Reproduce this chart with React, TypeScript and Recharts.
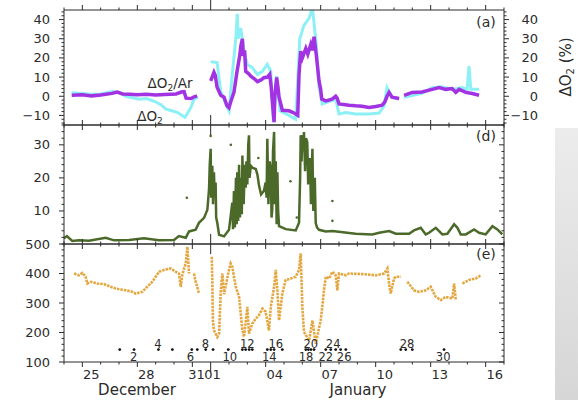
import React from 'react';
import { ComposedChart, Line, Scatter, XAxis, YAxis } from 'recharts';

// x = days since 24 December 00:00
const dayTicks = [0, 1, 2, 3, 4, 5, 6, 7, 8, 9, 10, 11, 12, 13, 14, 15, 16, 17, 18, 19, 20, 21, 22, 23, 24];
const majorDays = [1, 4, 7, 11, 14, 17, 20, 23];
const yearDay = 8;
const labelDays = [1, 4, 7, 8, 11, 14, 17, 20, 23];
const labelText = ['25', '28', '31', '01', '04', '07', '10', '13', '16'];

// panel (a): ΔO2/Ar and ΔO2 (%)
const o2ArPoints: [number, number | null][] = [
  [0.42, 0.5], [1.0, 0.8], [1.5, 0.2], [2.0, 0.6], [2.62, 1.5], [2.9, 2.2], [3.2, 1.2], [3.6, 1.0],
  [4.0, 0.8], [4.5, 1.0], [5.0, 0.6], [5.5, 0.9], [6.11, 1.2], [6.4, 2.2], [6.55, 2.4], [6.66, -1],
  [6.93, -1.2], [7.1, -0.3], [7.26, 0.2], [7.5, null],
  [8.0, 8], [8.18, 12.5], [8.25, 11], [8.35, 4.7], [8.55, 0.5], [8.73, -0.5], [8.89, -5], [9.0, -6],
  [9.09, -3], [9.27, 2], [9.44, 13], [9.6, 22], [9.64, 26], [9.73, 30], [9.78, 21], [9.85, 24],
  [9.91, 13], [10.05, 12], [10.19, 10.5], [10.4, 9], [10.55, 7.6], [10.75, 8.5], [10.91, 9.7],
  [11.1, 10], [11.22, 11.4], [11.3, 5], [11.36, -2.4], [11.46, -13.5], [11.5, 0], [11.6, 9.8],
  [11.68, 4], [11.73, -0.5], [11.91, -7.3], [12.27, -7.6], [12.5, -8.5], [12.64, -9.3], [12.75, -10],
  [12.82, 11.4], [12.91, 23.5], [13.0, 20], [13.19, 25], [13.3, 22], [13.46, 27], [13.55, 24],
  [13.64, 31], [13.76, 21.7], [13.91, 8], [14.0, 3.6], [14.06, -1.5], [14.28, -2.4], [14.62, -1.5],
  [14.82, 0], [14.9, -1], [15.0, -4], [15.55, -4.7], [15.91, -5], [16.26, -5.2], [16.64, -5.8],
  [17.01, -5.3], [17.35, -4.7], [17.5, -3], [17.62, 0], [17.73, 2], [17.89, -0.5], [18.28, -1.2],
  [18.4, null],
  [18.55, 0.5], [18.99, 2], [19.53, 2.2], [20.08, 3.6], [20.46, 4.5], [20.82, 3.6], [21.17, 4],
  [21.37, 2], [21.55, 3.6], [21.92, 2], [22.26, 1.4], [22.64, 0.5],
];
const o2Points: [number, number | null][] = [
  [0.42, 1.8], [1.0, 1.5], [1.5, 1.0], [2.0, 1.2], [2.62, 2.5], [3.0, 2], [3.38, 0], [4.09, -1.5],
  [4.5, -1.2], [5.02, -3], [5.3, -4.5], [5.56, -6.7], [5.89, -7.6], [6.2, -8.5], [6.44, -10],
  [6.6, -11], [6.71, -9.3], [6.93, -5.7], [7.09, -1.5], [7.31, -0.5], [7.5, null],
  [8.0, 18], [8.35, 17.6], [8.55, 2.7], [8.82, -4], [9.0, -7.6], [9.17, 10.5], [9.37, 30], [9.45, 43],
  [9.5, 30], [9.64, 35.6], [9.82, 23.5], [10.0, 16.6], [10.27, 14.9], [10.55, 11.4], [10.82, 13],
  [11.09, 16.6], [11.28, 13], [11.42, -13.5], [11.6, 10.5], [11.78, -7.6], [12.27, -10], [12.64, -12],
  [12.86, 30], [13.09, 37], [13.37, 40.8], [13.55, 46], [13.64, 38], [13.76, 27], [13.91, 4.7],
  [14.09, -4], [14.3, -3.3], [14.82, -1.5], [15.0, -9.3], [15.37, -8.5], [15.91, -9.3], [16.64, -9.3],
  [17.19, -8.8], [17.46, -5], [17.62, 4.5], [17.89, -0.5], [18.28, -1.5], [18.4, null],
  [18.55, -0.5], [19.53, 1.5], [20.08, 4.5], [20.62, 5], [21.17, 3.6], [21.71, 4.6], [21.99, 3.6],
  [22.09, 15.7], [22.19, 3.6], [22.64, 3.6],
];

// panel (d)
const greenPoints: [number, number | null][] = [
  [0, 1.7], [0.16, 2.4], [0.45, 0.9], [0.82, 1.1], [1.36, 1.0], [2.27, 1.9], [2.73, 1.1], [3.55, 1.2],
  [4.36, 1.7], [5.18, 1.1], [6.0, 1.2], [6.27, 2.4], [6.64, 1.9], [6.82, 3.8], [7.18, 4.3], [7.36, 6.4],
  [7.64, 7.9], [7.82, 10.4], [7.91, 16.5], [7.95, 24], [8.0, 28.8], [8.03, 14], [8.09, 23.7], [8.13, 12],
  [8.18, 21.7], [8.22, 14], [8.27, 18.6], [8.3, 8], [8.36, 6.4], [8.46, 2.8], [8.73, 2.3], [9.0, 4.3],
  [9.18, 12.5], [9.22, 4.5], [9.27, 16], [9.32, 5], [9.38, 20], [9.42, 6], [9.45, 21.7], [9.5, 7],
  [9.55, 24], [9.6, 8], [9.65, 20], [9.7, 9], [9.73, 26.8], [9.8, 12], [9.86, 24], [9.91, 17],
  [9.95, 25], [10.0, 18], [10.05, 30], [10.09, 32.9], [10.12, 20], [10.19, 23.7], [10.3, 23],
  [10.46, 22.7], [10.55, 21], [10.64, 17.6], [10.75, 15], [10.82, 15.5], [10.9, 16], [11.0, 18.6],
  [11.05, 14], [11.09, 31.8], [11.15, 12], [11.22, 25], [11.28, 22.7], [11.32, 8], [11.36, 10.4],
  [11.4, 28], [11.46, 33.9], [11.5, 12], [11.55, 25], [11.6, 6], [11.64, 21.7], [11.68, 10],
  [11.73, 5.4], [12.1, 4.5], [12.64, 4.1], [12.82, 6.4], [12.88, 20], [12.91, 32.9], [12.96, 25],
  [13.0, 33], [13.05, 28], [13.09, 33.9], [13.15, 22], [13.2, 32], [13.27, 30.8], [13.32, 18],
  [13.37, 21.7], [13.42, 26], [13.47, 12], [13.55, 28.8], [13.6, 10], [13.64, 16.5], [13.68, 20],
  [13.73, 6.4], [13.8, 5], [13.91, 4.3], [14.28, 3.8], [14.64, 3.9], [15.91, 3.1], [16.82, 2.9],
  [17.19, 3.4], [17.73, 3.9], [18.1, 3.1], [18.82, 3.1], [19.09, 4.1], [19.46, 4.9], [19.73, 2.9],
  [19.91, 3.4], [20.28, 4.9], [20.64, 2.9], [20.91, 3.1], [21.28, 6.0], [21.46, 4.9], [21.64, 2.9],
  [21.92, 2.9], [22.37, 4.4], [22.64, 3.4], [23.0, 2.9], [23.37, 5.4], [23.64, 4.4], [23.91, 2.9],
];
const greenStray: [number, number][] = [
  [6.7, 14], [8.0, 32.7], [9.1, 30], [10.6, 26], [12.35, 19], [14.64, 13], [14.64, 7], [12.7, 8],
];

// panel (e)
const orangePoints: [number, number | null][] = [
  [0.55, 400], [0.82, 394], [1.0, 402], [1.18, 389], [1.27, 366], [1.46, 372], [1.82, 366], [2.18, 364],
  [2.55, 355], [2.82, 349], [3.09, 346], [3.37, 343], [3.73, 338], [3.91, 332], [4.27, 338], [4.54, 355],
  [4.82, 372], [5.0, 389], [5.18, 406], [5.46, 412], [5.82, 417], [6.09, 406], [6.27, 400], [6.37, 355],
  [6.45, 394], [6.55, 417], [6.64, 434], [6.73, 491], [6.82, 400], [6.9, null],
  [7.09, 400], [7.18, 372], [7.27, 355], [7.36, 332], [7.45, null],
  [8.06, 457], [8.09, 380], [8.12, 241], [8.18, 207], [8.36, 185], [8.46, 196], [8.55, 343], [8.64, 400],
  [8.73, 330], [9.0, 412], [9.09, 434], [9.18, 423], [9.27, 389], [9.37, 355], [9.55, 321], [9.64, 264],
  [9.73, 207], [9.82, 185], [10.0, 287], [10.09, 196], [10.27, 230], [10.46, 247], [10.64, 259],
  [10.82, 281], [11.0, 270], [11.18, 207], [11.28, 287], [11.46, 355], [11.55, 412], [11.64, 343],
  [11.73, 241], [11.91, 332], [12.09, 378], [12.37, 383], [12.64, 389], [12.82, 412], [12.91, 468],
  [13.0, 287], [13.09, 202], [13.37, 173], [13.55, 241], [13.73, 162], [14.0, 241], [14.09, 287],
  [14.18, 343], [14.28, 389], [14.46, 383], [14.64, 406], [14.82, 394], [14.91, 343], [15.0, 400],
  [15.37, 394], [15.55, 400], [16.27, 398], [17.0, 394], [17.46, 400], [17.64, 417], [17.73, 366],
  [17.82, 332], [18.0, 383], [18.1, 389], [18.37, 389], [18.5, null],
  [18.73, 372], [19.09, 343], [19.37, 338], [19.73, 343], [20.0, 355], [20.28, 321], [20.55, 310],
  [20.82, 321], [21.18, 315], [21.28, 366], [21.37, 310], [21.5, null],
  [21.73, 366], [22.09, 378], [22.46, 383], [22.73, 394],
];
const stationLevel = 142;
const stationDays = [
  3.04, 3.82, 5.15, 5.91, 6.97, 7.27, 7.73, 8.13, 8.96, 9.73, 9.91, 10.1, 10.27, 11.09, 11.28, 11.46,
  11.91, 13.19, 13.33, 13.47, 13.64, 14.28, 14.55, 14.82, 15.09, 15.37, 18.37, 18.64, 19.0, 20.73,
];
const stationNums = ['2', '4', '6', '8', '10', '12', '14', '16', '18', '20', '22', '24', '26', '28', '30'];
const stationNumDays = [3.8, 5.12, 6.89, 7.71, 9.04, 10.0, 11.2, 11.55, 13.2, 13.46, 14.28, 14.68, 15.28, 18.71, 20.68];
const numAbove = 160;
const numBelow = 117;

const yTicksA = [-14, -12, -10, -8, -6, -4, -2, 0, 2, 4, 6, 8, 10, 12, 14, 16, 18, 20, 22, 24, 26, 28, 30, 32, 34, 36, 38, 40, 42, 44];
const yMajorA = [-10, 0, 10, 20, 30, 40];
const yTicksD = [0, 2, 4, 6, 8, 10, 12, 14, 16, 18, 20, 22, 24, 26, 28, 30, 32, 34, 36];
const yMajorD = [10, 20, 30];
const yTicksE = [100, 120, 140, 160, 180, 200, 220, 240, 260, 280, 300, 320, 340, 360, 380, 400, 420, 440, 460, 480, 500];
const yMajorE = [100, 200, 300, 400, 500];

const rows = (pts: [number, number | null][]) => pts.map(([x, v]) => ({ x, v }));

const INK = '#2b2b2b';
const FONT = 'DejaVu Sans, Verdana, sans-serif';

type Side = 'left' | 'right' | 'top' | 'bottom';

const signed = (v: number) => (v < 0 ? `\u2212${Math.abs(v)}` : `${v}`);

function makeTick(side: Side, majors: number[], outward: boolean, label?: (v: number) => string | null) {
  return (props: any) => {
    const { x, y, payload } = props;
    const v = payload.value as number;
    let len = majors.includes(v) ? 5 : 2.5;
    if ((side === 'top' || side === 'bottom') && v === yearDay) len = 10;
    const s = outward ? 1 : -1;
    let x2 = x;
    let y2 = y;
    if (side === 'left') x2 = x - s * len;
    if (side === 'right') x2 = x + s * len;
    if (side === 'top') y2 = y - s * len;
    if (side === 'bottom') y2 = y + s * len;
    const text = label ? label(v) : null;
    let t = null;
    if (text) {
      if (side === 'left') {
        t = <text x={x - 14} y={y} dy={4.5} textAnchor="end" fontSize={13} fill={INK} fontFamily={FONT}>{text}</text>;
      } else if (side === 'right') {
        t = <text x={x + 34} y={y} dy={4.5} textAnchor="end" fontSize={13} fill={INK} fontFamily={FONT}>{text}</text>;
      } else {
        let tx = x + 9;
        let anchor: 'middle' | 'end' | 'start' = 'middle';
        if (text === '31') { tx = x + 12.5; anchor = 'end'; }
        if (text === '01') { tx = x - 6.5; anchor = 'start'; }
        t = <text x={tx} y={y + 17} textAnchor={anchor} fontSize={13} fill={INK} fontFamily={FONT}>{text}</text>;
      }
    }
    return (
      <g>
        <line x1={x} y1={y} x2={x2} y2={y2} stroke={INK} strokeWidth={1} />
        {t}
      </g>
    );
  };
}

const dayLabel = (v: number) => {
  const i = labelDays.indexOf(v);
  return i >= 0 ? labelText[i] : null;
};

const axisProps = {
  type: 'number' as const,
  allowDataOverflow: true,
  interval: 0 as const,
  tickLine: false,
  tickSize: 0,
  tickMargin: 0,
  axisLine: { stroke: INK, strokeWidth: 1 },
};

// axes are 1px thick, so the margins are 1px less than the plot offsets
const xAxes = (bottomOut: boolean, topOut: boolean, bottomLabels: boolean) => [
  <XAxis key="b" xAxisId="b" dataKey="x" orientation="bottom" height={1} domain={[0, 24]} ticks={dayTicks}
    tick={makeTick('bottom', majorDays, bottomOut, bottomLabels ? dayLabel : undefined)} {...axisProps} />,
  <XAxis key="t" xAxisId="t" dataKey="x" orientation="top" height={1} domain={[0, 24]} ticks={dayTicks}
    tick={makeTick('top', majorDays, topOut)} {...axisProps} />,
];

const margin = (top: number, bottom: number) => ({ top: top - 1, bottom: bottom - 1, left: 63, right: 73 });

const txt = (left: number, top: number, size: number, content: React.ReactNode, extra: React.CSSProperties = {}) => (
  <div style={{
    position: 'absolute', left, top, transform: 'translate(-50%, -50%)', fontSize: size, fontFamily: FONT,
    color: INK, whiteSpace: 'nowrap', lineHeight: 1, ...extra,
  }}>{content}</div>
);

export default function App() {
  const stationRows = stationDays.map((x) => ({ x, v: stationLevel }));
  const numRows = stationNums.map((label, i) => ({ x: stationNumDays[i], v: i % 2 === 0 ? numBelow : numAbove, label }));
  return (
    <div style={{ position: 'absolute', left: 0, top: 0, width: 578, height: 400, background: '#fff', overflow: 'hidden' }}>
      <div style={{ position: 'absolute', left: 555, top: 128, width: 23, height: 272, background: 'linear-gradient(#ececec, #d6d6d6)' }} />

      <div style={{ position: 'absolute', left: 0, top: 0 }}>
        <ComposedChart width={578} height={130} margin={margin(10, 5)}>
          {xAxes(false, true, false)}
          <YAxis yAxisId="l" orientation="left" width={1} domain={[-15, 45]} ticks={yTicksA}
            tick={makeTick('left', yMajorA, true, (v) => (yMajorA.includes(v) ? signed(v) : null))} {...axisProps} />
          <YAxis yAxisId="r" orientation="right" width={1} domain={[-15, 45]} ticks={yTicksA}
            tick={makeTick('right', yMajorA, true, (v) => (yMajorA.includes(v) ? signed(v) : null))} {...axisProps} />
          <Line xAxisId="b" yAxisId="l" data={rows(o2Points)} dataKey="v" stroke="#8cf0f6" strokeWidth={3}
            dot={false} isAnimationActive={false} connectNulls={false} />
          <Line xAxisId="b" yAxisId="l" data={rows(o2ArPoints)} dataKey="v" stroke="#a232e2" strokeWidth={3.5}
            dot={false} isAnimationActive={false} connectNulls={false} />
        </ComposedChart>
      </div>

      <div style={{ position: 'absolute', left: 0, top: 120 }}>
        <ComposedChart width={578} height={129} margin={margin(5, 5)}>
          {xAxes(false, false, false)}
          <YAxis yAxisId="l" orientation="left" width={1} domain={[0, 36]} ticks={yTicksD}
            tick={makeTick('left', yMajorD, true, (v) => (yMajorD.includes(v) ? `${v}` : null))} {...axisProps} />
          <YAxis yAxisId="r" orientation="right" width={1} domain={[0, 36]} ticks={yTicksD}
            tick={makeTick('right', yMajorD, false)} {...axisProps} />
          <Line xAxisId="b" yAxisId="l" data={rows(greenPoints)} dataKey="v" stroke="#4b6a2a" strokeWidth={2.5}
            dot={false} isAnimationActive={false} />
          <Scatter xAxisId="b" yAxisId="l" data={greenStray.map(([x, v]) => ({ x, v }))} dataKey="v" fill="#4b6a2a"
            shape={(p: any) => <circle cx={p.cx} cy={p.cy} r={1.3} fill="#4b6a2a" />} isAnimationActive={false} />
        </ComposedChart>
      </div>

      <div style={{ position: 'absolute', left: 0, top: 229 }}>
        <ComposedChart width={578} height={171} margin={margin(15, 38)}>
          {xAxes(true, false, true)}
          <YAxis yAxisId="l" orientation="left" width={1} domain={[100, 500]} ticks={yTicksE}
            tick={makeTick('left', yMajorE, true, (v) => (yMajorE.includes(v) ? `${v}` : null))} {...axisProps} />
          <YAxis yAxisId="r" orientation="right" width={1} domain={[100, 500]} ticks={yTicksE}
            tick={makeTick('right', yMajorE, false)} {...axisProps} />
          <Line xAxisId="b" yAxisId="l" data={rows(orangePoints)} dataKey="v" stroke="#e4a63e" strokeWidth={2.6}
            strokeDasharray="2.5 1" dot={false} isAnimationActive={false} />
          <Scatter xAxisId="b" yAxisId="l" data={stationRows} dataKey="v"
            shape={(p: any) => <circle cx={p.cx} cy={p.cy} r={1.4} fill="#111" />} isAnimationActive={false} />
          <Scatter xAxisId="b" yAxisId="l" data={numRows} dataKey="v"
            shape={(p: any) => (
              <text x={p.cx} y={p.cy} dy={4} textAnchor="middle" fontSize={11.5} fill={INK} fontFamily={FONT}>
                {p.payload.label}
              </text>
            )} isAnimationActive={false} />
        </ComposedChart>
      </div>

      {txt(486, 22, 14, '(a)')}
      {txt(486, 136, 14, '(d)')}
      {txt(486, 254, 14, '(e)')}
      {txt(170, 85, 13.5, <span>ΔO<sub style={{ fontSize: 9, verticalAlign: -3 }}>2</sub>/Ar</span>)}
      {txt(150, 118, 13.5, <span>ΔO<sub style={{ fontSize: 9, verticalAlign: -3 }}>2</sub></span>)}
      {txt(137, 390, 15, 'December')}
      {txt(358, 390, 15, 'January')}
      {txt(567, 67, 15, <span>ΔO<sub style={{ fontSize: 10, verticalAlign: -3 }}>2</sub> (%)</span>, {
        transform: 'translate(-50%, -50%) rotate(-90deg)',
      })}
    </div>
  );
}
